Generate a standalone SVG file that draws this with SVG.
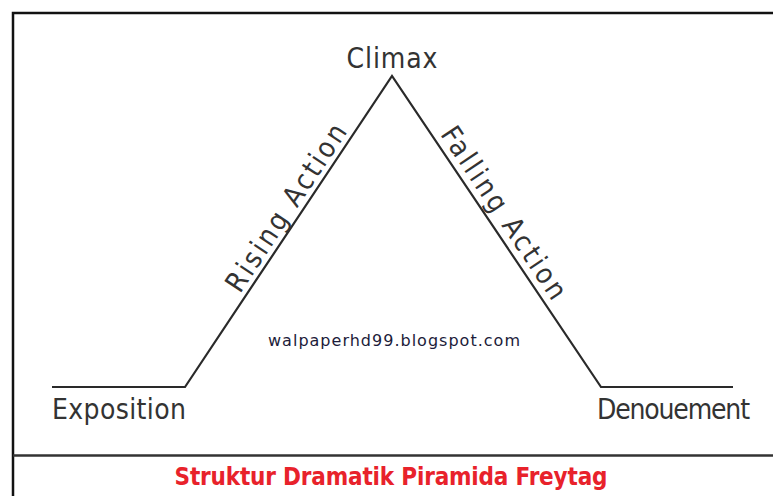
<svg xmlns="http://www.w3.org/2000/svg" width="773" height="496" viewBox="0 0 773 496">
<style>
.lbl{font-family:"DejaVu Sans Condensed","DejaVu Sans",sans-serif;font-stretch:condensed;font-size:28px;fill:#333;}
.ln{fill:none;stroke:#2a2a2a;stroke-width:2.2;stroke-linejoin:miter;}
</style>
<rect width="773" height="496" fill="#fff"/>
<g id="frame">
<path d="M13,496 V13 H773" fill="none" stroke="#111" stroke-width="2.5"/>
<line x1="13" y1="455.5" x2="773" y2="455.5" stroke="#333" stroke-width="2.5"/>
</g>
<g id="connectors">
<polyline class="ln" points="52,387 185,387 392,76 601,387 733,387"/>
</g>
<g id="climax"><text class="lbl" x="392" y="68" text-anchor="middle" textLength="91">Climax</text></g>
<g id="rising"><text class="lbl" transform="translate(294,213) rotate(-56.4)" text-anchor="middle" textLength="195">Rising Action</text></g>
<g id="falling"><text class="lbl" transform="translate(496,218) rotate(56.1)" text-anchor="middle" textLength="202">Falling Action</text></g>
<g id="exposition"><text class="lbl" x="52" y="419" textLength="134">Exposition</text></g>
<g id="denouement"><text class="lbl" x="597" y="419" textLength="153">Denouement</text></g>
<g id="watermark"><text x="268" y="346" font-family="'DejaVu Sans',sans-serif" font-size="16" fill="#1c1c3a" textLength="252">walpaperhd99.blogspot.com</text></g>
<g id="title"><text x="391" y="485" text-anchor="middle" font-family="'DejaVu Sans Condensed','DejaVu Sans',sans-serif" font-stretch="condensed" font-size="24" font-weight="bold" fill="#e8222b" textLength="433">Struktur Dramatik Piramida Freytag</text></g>
</svg>
